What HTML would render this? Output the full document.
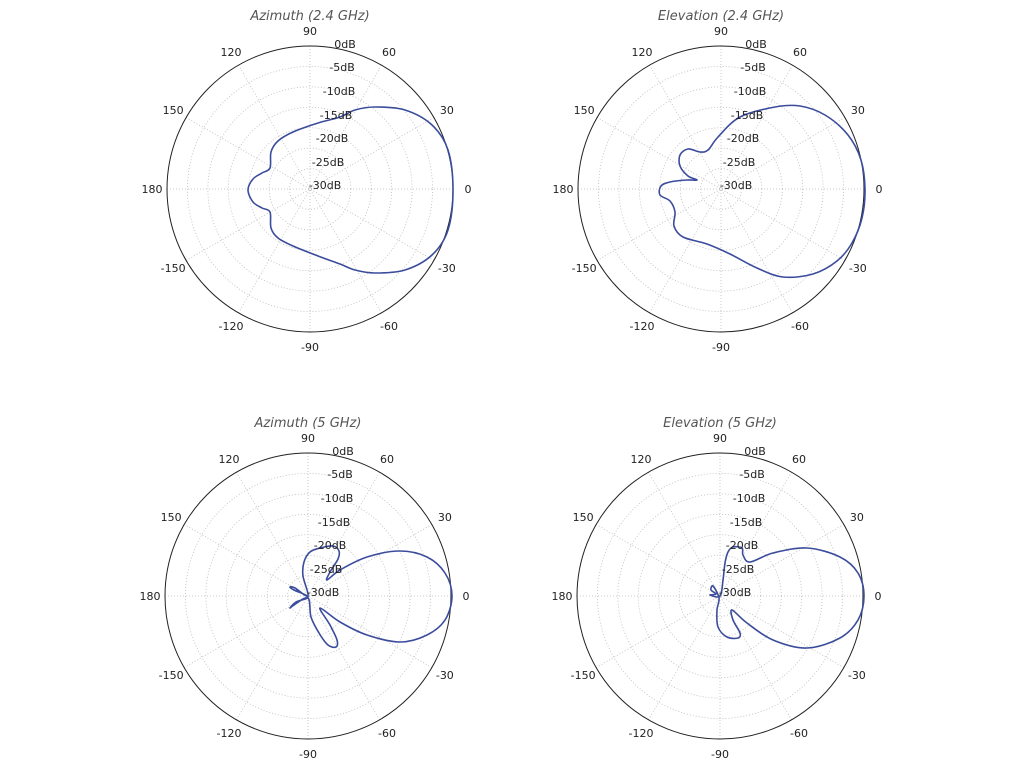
<!DOCTYPE html>
<html><head><meta charset="utf-8"><style>
html,body{margin:0;padding:0;background:#fff;}
svg{display:block;}
</style></head><body>
<svg id="s" width="1024" height="768" xmlns="http://www.w3.org/2000/svg" font-family="DejaVu Sans, Liberation Sans, sans-serif"></svg>
<script>
const s=document.getElementById('s');
let h='';
const charts=[
 {cx:310,cy:189,t:'Azimuth (2.4 GHz)',pts:[[453,190],[448,150],[432,125],[405,110],[375,107],[355,110],[340,117],[318,123],[293,132],[278,141],[271,152],[270,168],[262,173],[253,179],[248,190],[253,202],[262,208],[270,212],[271,228],[278,238],[293,246],[318,256],[340,264],[355,270],[375,273],[405,270],[432,255],[448,230]]},
 {cx:721,cy:189,t:'Elevation (2.4 GHz)',pts:[[865,189],[861,160],[848,135],[825,115],[800,106],[775,107],[740,117],[718,137],[708,150],[700,152],[688,149],[680,155],[680,166],[688,176],[697,180],[687,180],[670,182],[661,186],[660,195],[670,201],[675,212],[674,226],[683,237],[707,244],[730,254],[757,268],[783,277],[813,274],[837,261],[852,243],[862,218]]},
 {cx:308,cy:596,t:'Azimuth (5 GHz)',pts:[[308,596],[303,576],[304,562],[310,552],[320,548],[333,546],[339,551],[338,559],[330,572],[327,580],[340,570],[367,557],[400,551],[427,557],[445,573],[452,596],[445,620],[427,635],[400,642],[367,635],[340,622],[320,608],[330,625],[337,640],[336,647],[328,645],[319,633],[311,617],[308,598],[294,605],[290,608],[296,602],[308,597],[294,590],[290,587],[295,588]]},
 {cx:720,cy:596,t:'Elevation (5 GHz)',pts:[[720,596],[723,580],[725,563],[728,552],[733,547],[742,548],[743,555],[750,562],[773,553],[807,548],[840,557],[858,573],[864,596],[858,620],[840,638],[807,648],[773,640],[747,623],[732,610],[733,620],[740,633],[738,638],[727,637],[718,627],[717,610],[719,598],[713,586],[711,590],[716,594],[710,595]]}
];
const R=143;
function smooth(p){
 let n=p.length,d=`M${p[0][0]},${p[0][1]}`;
 for(let i=0;i<n;i++){
  const p0=p[(i-1+n)%n],p1=p[i],p2=p[(i+1)%n],p3=p[(i+2)%n];
  const c1=[p1[0]+(p2[0]-p0[0])/6,p1[1]+(p2[1]-p0[1])/6];
  const c2=[p2[0]-(p3[0]-p1[0])/6,p2[1]-(p3[1]-p1[1])/6];
  d+=` C${c1[0].toFixed(1)},${c1[1].toFixed(1)} ${c2[0].toFixed(1)},${c2[1].toFixed(1)} ${p2[0]},${p2[1]}`;
 }
 return d+'Z';
}
const dbl=[['0dB',35,-145],['-5dB',32,-122],['-10dB',29,-98],['-15dB',26,-74],['-20dB',22,-51],['-25dB',18,-27],['-30dB',15,-4]];
for(const c of charts){
 const {cx,cy}=c;
 for(let k=1;k<7;k++) h+=`<circle cx="${cx}" cy="${cy}" r="${R*k/7}" fill="none" stroke="#bbb" stroke-width="0.8" stroke-dasharray="1,2"/>`;
 for(let a=0;a<180;a+=30){const r=a*Math.PI/180;
  h+=`<line x1="${cx-R*Math.cos(r)}" y1="${cy+R*Math.sin(r)}" x2="${cx+R*Math.cos(r)}" y2="${cy-R*Math.sin(r)}" stroke="#bbb" stroke-width="0.8" stroke-dasharray="1,2"/>`;}
 h+=`<circle cx="${cx}" cy="${cy}" r="${R}" fill="none" stroke="#222" stroke-width="1"/>`;
 h+=`<path d="${smooth(c.pts)}" fill="none" stroke="#3b4c9c" stroke-width="1.6"/>`;
 for(let a=-150;a<=180;a+=30){const r=a*Math.PI/180;
  h+=`<text x="${cx+158*Math.cos(r)}" y="${cy-158*Math.sin(r)+4}" font-size="11" text-anchor="middle" fill="#222">${a}</text>`;}
 for(const [t,dx,dy] of dbl) h+=`<text x="${cx+dx}" y="${cy+dy+4}" font-size="11" text-anchor="middle" fill="#222">${t}</text>`;
 h+=`<text x="${cx}" y="${cy-169}" font-size="13" font-style="italic" text-anchor="middle" fill="#555">${c.t}</text>`;
}
s.innerHTML=h;
</script>
</body></html>
